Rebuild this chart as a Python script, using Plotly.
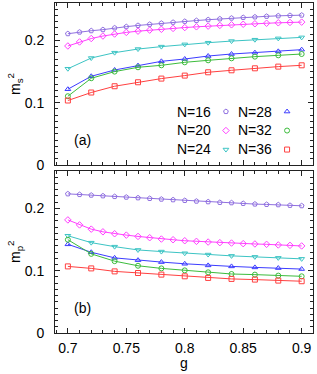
import plotly.graph_objects as go

# ---------------- data ----------------
g_fine = [0.70, 0.71, 0.72, 0.73, 0.74, 0.75, 0.76, 0.77, 0.78, 0.79, 0.80,
          0.81, 0.82, 0.83, 0.84, 0.85, 0.86, 0.87, 0.88, 0.89, 0.90]
g_coarse = [0.70, 0.72, 0.74, 0.76, 0.78, 0.80, 0.82, 0.84, 0.86, 0.88, 0.90]

labels = ["N=16", "N=20", "N=24", "N=28", "N=32", "N=36"]
colors = ["#9070e0", "#ff40ff", "#3cc4c4", "#3c3cff", "#3cbc3c", "#ff4040"]
symbols = ["pentagon-open", "diamond-open", "triangle-down-open",
           "triangle-up-open", "circle-open", "square-open"]

# panel (a): m_s^2
ms_16 = [0.2107, 0.2133, 0.2155, 0.2172, 0.2200, 0.2220, 0.2240, 0.2258, 0.2275, 0.2290, 0.2305,
         0.2318, 0.2332, 0.2345, 0.2357, 0.2367, 0.2376, 0.2386, 0.2394, 0.2400, 0.2405]
ms_20 = [0.1910, 0.1975, 0.2030, 0.2070, 0.2102, 0.2128, 0.2148, 0.2165, 0.2178, 0.2192, 0.2206,
         0.2218, 0.2229, 0.2240, 0.2250, 0.2259, 0.2267, 0.2275, 0.2282, 0.2288, 0.2293]
ms_24 = [0.1545, 0.1717, 0.1803, 0.1861, 0.1900, 0.1936, 0.1963, 0.1989, 0.2011, 0.2032, 0.2048]
ms_28 = [0.1216, 0.1424, 0.1525, 0.1595, 0.1664, 0.1701, 0.1749, 0.1781, 0.1803, 0.1824, 0.1851]
ms_32 = [0.1104, 0.1392, 0.1499, 0.1568, 0.1600, 0.1648, 0.1680, 0.1712, 0.1739, 0.1760, 0.1781]
ms_36 = [0.1035, 0.1163, 0.1264, 0.1328, 0.1387, 0.1435, 0.1488, 0.1520, 0.1552, 0.1579, 0.1600]

# panel (b): m_p^2
mp_16 = [0.2233, 0.2222, 0.2212, 0.2201, 0.2190, 0.2180, 0.2169, 0.2159, 0.2148, 0.2138, 0.2127,
         0.2116, 0.2106, 0.2095, 0.2090, 0.2079, 0.2069, 0.2063, 0.2058, 0.2048, 0.2042]
mp_20 = [0.1815, 0.1735, 0.1667, 0.1624, 0.1593, 0.1571, 0.1550, 0.1529, 0.1508, 0.1497, 0.1481,
         0.1471, 0.1460, 0.1450, 0.1444, 0.1434, 0.1429, 0.1423, 0.1413, 0.1407, 0.1397]
mp_24 = [0.1561, 0.1450, 0.1386, 0.1333, 0.1307, 0.1280, 0.1259, 0.1238, 0.1222, 0.1206, 0.1190]
mp_28 = [0.1423, 0.1296, 0.1206, 0.1169, 0.1138, 0.1111, 0.1085, 0.1069, 0.1053, 0.1042, 0.1026]
mp_32 = [0.1497, 0.1270, 0.1153, 0.1079, 0.1037, 0.1005, 0.0974, 0.0947, 0.0937, 0.0921, 0.0910]
mp_36 = [0.1069, 0.1037, 0.0989, 0.0963, 0.0937, 0.0910, 0.0884, 0.0868, 0.0857, 0.0841, 0.0831]

x_tickvals = [0.7, 0.75, 0.8, 0.85, 0.9]
x_ticktext = ["0.7", "0.75", "0.8", "0.85", "0.9"]
y_tickvals = [0, 0.1, 0.2]
y_ticktext = ["0", "0.1", "0.2"]

ms_series = [ms_16, ms_20, ms_24, ms_28, ms_32, ms_36]
mp_series = [mp_16, mp_20, mp_24, mp_28, mp_32, mp_36]
xs_series = [g_fine, g_fine, g_coarse, g_coarse, g_coarse, g_coarse]

FONT = "Liberation Sans, Arial, sans-serif"
fig = go.Figure()

for i in range(6):
    for ys, xa, ya in ((ms_series[i], "x2", "y2"), (mp_series[i], "x", "y")):
        fig.add_trace(go.Scatter(
            x=xs_series[i], y=ys, xaxis=xa, yaxis=ya, mode="lines+markers",
            line=dict(color=colors[i], width=1),
            marker=dict(symbol=symbols[i], size=5, color=colors[i], line=dict(width=1)),
            showlegend=False, hoverinfo="skip"))

# legend symbols (marker only, no data)
for i in range(6):
    fig.add_trace(go.Scatter(
        x=[None], y=[None], xaxis="x2", yaxis="y2", mode="markers", name=" ",
        marker=dict(symbol=symbols[i], size=5, color=colors[i], line=dict(width=1)),
        showlegend=True, legend="legend" if i < 3 else "legend2"))

axis_common = dict(
    showgrid=False, zeroline=False, showline=True, linecolor="#222", linewidth=1,
    mirror="ticks", ticks="inside", ticklen=5, tickcolor="#222", tickwidth=1,
    tickfont=dict(family=FONT, size=14, color="#000"), automargin=False,
)
minor_x = dict(dtick=0.01, tick0=0.7, ticks="inside", ticklen=3, tickcolor="#222")
minor_y = dict(dtick=0.01, tick0=0, ticks="inside", ticklen=3, tickcolor="#222")

fig.update_layout(
    width=317, height=374,
    margin=dict(l=55, r=4, t=3, b=41, autoexpand=False),
    paper_bgcolor="white", plot_bgcolor="white",
    font=dict(family=FONT, size=14, color="#000"),
    xaxis=dict(axis_common, range=[0.689, 0.9097], anchor="y",
               tickvals=x_tickvals, ticktext=x_ticktext, minor=minor_x, ticklabelstandoff=2),
    xaxis2=dict(axis_common, range=[0.689, 0.9097], anchor="y2", matches="x",
                tickvals=x_tickvals, showticklabels=False, minor=minor_x),
    yaxis=dict(axis_common, range=[0, 0.26], domain=[0, 0.4909], anchor="x",
               tickvals=y_tickvals, ticktext=y_ticktext, minor=minor_y, ticklabelstandoff=7),
    yaxis2=dict(axis_common, range=[0, 0.26], domain=[0.5091, 1], anchor="x2",
                tickvals=y_tickvals, ticktext=y_ticktext, minor=minor_y, ticklabelstandoff=7),
    legend=dict(x=0.585, y=0.715, xanchor="left", yanchor="top", bgcolor="rgba(0,0,0,0)",
                font=dict(size=10), itemwidth=30, tracegroupgap=0),
    legend2=dict(x=0.822, y=0.715, xanchor="left", yanchor="top", bgcolor="rgba(0,0,0,0)",
                 font=dict(size=10), itemwidth=30, tracegroupgap=0),
)

def px_x(px):
    return (px - 55) / 258.0

def px_y(py):
    return (333 - py) / 330.0

def label(text, x, y, xanchor="center", angle=0):
    fig.add_annotation(x=px_x(x), y=px_y(y), xref="paper", yref="paper", xanchor=xanchor,
                       yanchor="middle", text=text, showarrow=False, textangle=angle,
                       font=dict(family=FONT, size=14, color="#000"))

# legend labels (text left of the symbols, as in the reference)
legend_rows = [112, 130, 148.5]
for k in range(3):
    label(labels[k], 213, legend_rows[k], xanchor="right")
    label(labels[k + 3], 274, legend_rows[k], xanchor="right")
# panel labels
label("(a)", 82, 140)
label("(b)", 82, 308)
# axis titles
label("g", 184, 363)
label("m<sub>s</sub><sup>2</sup>", 15, 84, angle=-90)
label("m<sub>p</sub><sup>2</sup>", 15, 252, angle=-90)

fig.write_html("out.html", config={"displayModeBar": False},
               post_script="document.body.style.margin='0';document.body.style.padding='0';")
